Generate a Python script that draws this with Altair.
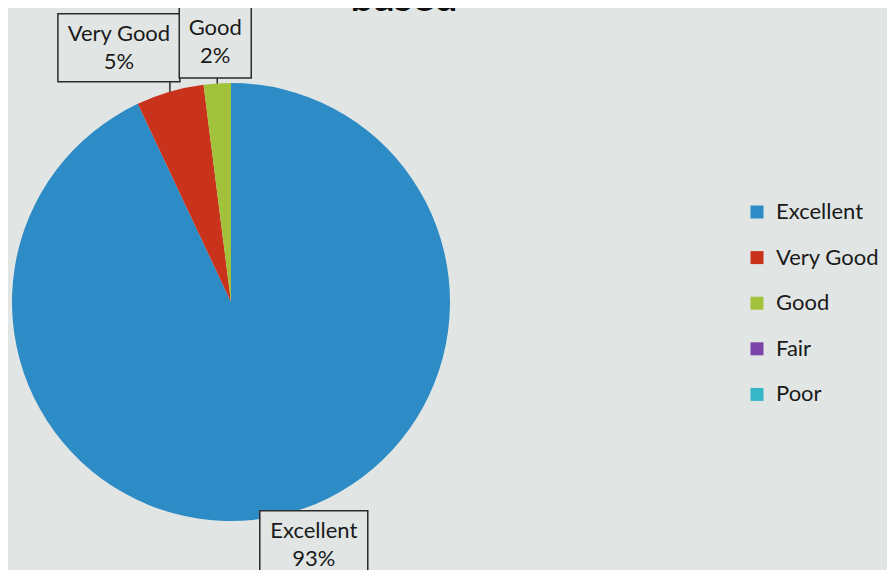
import math
import altair as alt
import pandas as pd

# ---- data ----
categories = ["Excellent", "Very Good", "Good", "Fair", "Poor"]
percent = [93, 5, 2, 0, 0]
colors = ["#2d8bc5", "#c9321b", "#a3c23b", "#7a44a8", "#37b6c8"]
title_tail = "based"

# ---- layout / style constants (chart coordinates) ----
W, H = 879, 562
CX, CY, R = 223, 294, 219
BG = "#e1e6e5"
# callout box: offset of box centre from the slice tip, and box size
BOX = {
    "Excellent": (35, 29, 108, 68),
    "Very Good": (-51, -44, 122, 68),
    "Good": (-2, -41, 72, 71),
}

df = pd.DataFrame({"category": categories, "value": percent, "idx": range(len(categories))})

# label anchors derived from the data (mid-angle of each slice on the rim)
total = sum(percent)
rows = []
cum = 0
for cat, v in zip(categories, percent):
    cum += v
    if v <= 0:
        continue
    mid = (cum - v / 2) / total * 2 * math.pi
    tx = CX + R * math.sin(mid)
    ty = CY - R * math.cos(mid)
    dx, dy, bw, bh = BOX[cat]
    bx, by = tx + dx, ty + dy
    edge_y = by + bh / 2 if by < ty else by - bh / 2
    rows.append({
        "category": cat,
        "label": f"{cat}\n{v}%",
        "tx": tx, "ty": ty,
        "bx": bx, "by": by,
        "x1": bx - bw / 2, "x2": bx + bw / 2,
        "y1": by - bh / 2, "y2": by + bh / 2,
        "ey": edge_y,
    })
lab = pd.DataFrame(rows)

arc = alt.Chart(df).mark_arc(outerRadius=R).encode(
    theta=alt.Theta("value:Q", stack=True),
    order=alt.Order("idx:Q", sort="ascending"),
    color=alt.Color(
        "category:N",
        sort=categories,
        scale=alt.Scale(domain=categories, range=colors),
        legend=alt.Legend(
            title=None,
            orient="none",
            legendX=738,
            legendY=193,
            symbolType="square",
            symbolSize=169,
            symbolStrokeWidth=0,
            labelFont="Lato",
            labelFontSize=22,
            labelColor="#1a1a1a",
            labelOffset=8,
            rowPadding=23.6,
            padding=0,
        ),
    ),
    x=alt.value(CX),
    y=alt.value(CY),
)

lbase = alt.Chart(lab)
pointer = lbase.mark_rule(color="#2a2a2a", strokeWidth=1.5).encode(
    x=alt.X("tx:Q", scale=None, axis=None),
    y=alt.Y("ey:Q", scale=None, axis=None),
    y2="ty:Q",
)
boxes = lbase.mark_rect(fill=BG, stroke="#2a2a2a", strokeWidth=1.5).encode(
    x=alt.X("x1:Q", scale=None, axis=None),
    x2="x2:Q",
    y=alt.Y("y1:Q", scale=None, axis=None),
    y2="y2:Q",
)
texts = lbase.mark_text(
    font="Lato", fontSize=22, lineBreak="\n", lineHeight=28, dy=-14,
    align="center", baseline="middle", color="#1a1a1a",
).encode(
    x=alt.X("bx:Q", scale=None, axis=None),
    y=alt.Y("by:Q", scale=None, axis=None),
    text="label:N",
)

title = alt.Chart(pd.DataFrame({"t": [title_tail]})).mark_text(
    font="Lato", fontSize=41, fontWeight="bold", align="center",
    baseline="alphabetic", color="#111111",
).encode(x=alt.value(396), y=alt.value(3), text="t:N")

chart = alt.layer(arc, pointer, boxes, texts, title).properties(
    width=W, height=H, background=BG, padding=0,
    autosize=alt.AutoSizeParams(type="none"),
).configure_view(stroke=None)

chart.save("out.html", embed_options={"renderer": "svg", "actions": False})
